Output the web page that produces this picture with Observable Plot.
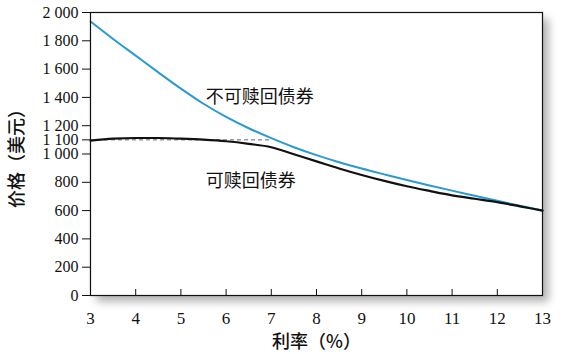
<!DOCTYPE html>
<html><head><meta charset="utf-8">
<script src="https://cdn.jsdelivr.net/npm/d3@7"></script>
<script src="https://cdn.jsdelivr.net/npm/@observablehq/plot@0.6"></script>
<style>
body{margin:0;background:#fff}
</style>
</head><body><div id="chart"></div>
<script>
const rates = [3,3.5,4,4.5,5,5.5,6,6.5,7,7.5,8,8.5,9,9.5,10,10.5,11,11.5,12,12.5,13];
const nonCallable = [1936,1813,1695,1577,1462,1355,1262,1182,1112,1048,992,942,897,856,816,778,741,705,669,634,600];
const callable = [1095,1108,1113,1113,1108,1101,1090,1072,1048,998,948,898,852,810,772,739,708,684,660,630,600];
const xTicks = [3,4,5,6,7,8,9,10,11,12,13];
const yTicks = [0,200,400,600,800,1000,1100,1200,1400,1600,1800,2000];
const yTickLabels = ["0","200","400","600","800","1 000","1 100","1 200","1 400","1 600","1 800","2 000"];
const callPrice = [{x1: 3, x2: 7, y: 1100}];
const seriesLabels = [
  {x: 5.55, y: 1400, text: "不可赎回债券"},
  {x: 5.55, y: 810, text: "可赎回债券"}
];
const xLabel = "利率（%）";
const yLabel = "价格（美元）";

const nc = rates.map((r, i) => ({r, v: nonCallable[i]}));
const cb = rates.map((r, i) => ({r, v: callable[i]}));

const chart = Plot.plot({
  width: 566, height: 354,
  marginLeft: 90, marginRight: 24, marginTop: 12, marginBottom: 59,
  style: {fontFamily: "'Liberation Serif', serif", fontSize: "16px", color: "#111", background: "transparent"},
  x: {domain: [3, 13]},
  y: {domain: [0, 2000]},
  marks: [
    Plot.frame({fill: "#b0b0b0", stroke: null, dx: 6, dy: 6}),
    Plot.frame({fill: "white", stroke: null}),
    Plot.ruleY(callPrice, {x1: "x1", x2: "x2", y: "y", stroke: "#555", strokeWidth: 0.9, strokeDasharray: "4,3"}),
    Plot.line(nc, {x: "r", y: "v", stroke: "#2b9ad3", strokeWidth: 2, curve: "monotone-x"}),
    Plot.line(cb, {x: "r", y: "v", stroke: "#111", strokeWidth: 2.2, curve: "monotone-x"}),
    Plot.text(seriesLabels, {x: "x", y: "y", text: "text", textAnchor: "start", fontFamily: "'Noto Sans CJK SC', sans-serif", fontSize: 18, fill: "#111"}),
    Plot.axisY(yTicks, {tickSize: 8, tickPadding: 4, fontSize: 16, tickFormat: d => yTickLabels[yTicks.indexOf(d)], label: yLabel, labelAnchor: "center", labelOffset: 80, labelArrow: false}),
    Plot.axisX(xTicks, {tickSize: -6, tickPadding: 22, fontSize: 17, label: xLabel, labelAnchor: "center", labelOffset: 52, labelArrow: false}),
    Plot.frame({stroke: "#111", strokeWidth: 1.2})
  ]
});
document.getElementById("chart").appendChild(chart);
const frames = chart.querySelectorAll('[aria-label="frame"]');
if (frames.length) frames[0].setAttribute("style", "filter: blur(4px)");
chart.querySelectorAll("text").forEach(t => {
  const s = t.textContent;
  if (/^[0-9 ]+$/.test(s)) {
    t.style.setProperty("font-family", "'Liberation Serif', 'Times New Roman', 'DejaVu Serif', serif", "important");
  } else if (s === xLabel || s === yLabel) {
    t.style.setProperty("font-family", "'Noto Sans CJK SC', sans-serif", "important");
    t.style.fontSize = "18px";
    t.style.fontWeight = "500";
  }
});
</script>
</body></html>
